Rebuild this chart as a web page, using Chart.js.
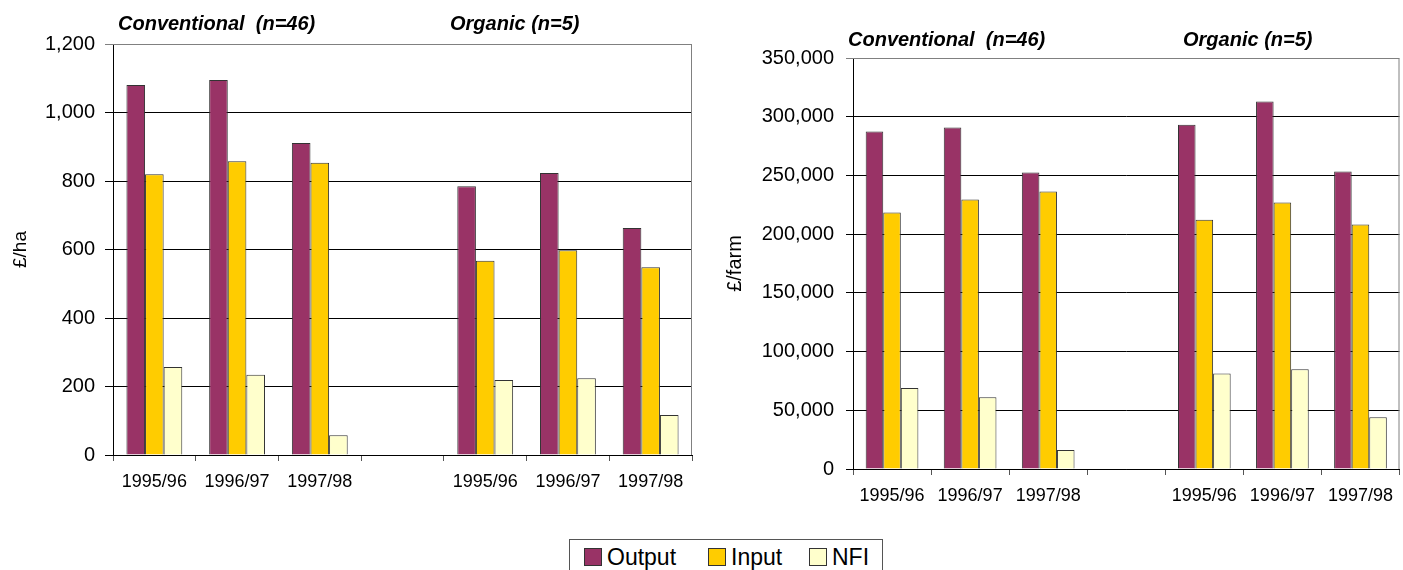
<!DOCTYPE html>
<html>
<head>
<meta charset="utf-8">
<script src="https://cdn.jsdelivr.net/npm/chart.js@4/dist/chart.umd.min.js"></script>
<style>
  body { margin: 0; background: #fff; width: 1403px; height: 570px; overflow: hidden; position: relative;
         font-family: 'Liberation Sans', Arial, sans-serif; }
  canvas { position: absolute; }
  .note { position: absolute; font: italic bold 20px 'Liberation Sans', Arial, sans-serif; white-space: pre; color: #000; }
  #legend { position: absolute; left: 569px; top: 539px; width: 314px; height: 40px; border: 1px solid #555;
            box-sizing: border-box; font-size: 23px; }
  #legend span.item { position: absolute; top: 4px; line-height: 26px; }
  #legend i { display: inline-block; width: 16px; height: 16px; border: 1px solid #333; margin-right: 5px; vertical-align: -1px; }
</style>
</head>
<body>
<canvas id="haChart" width="700" height="500" style="left:0;top:0"></canvas>
<canvas id="farmChart" width="683" height="514" style="left:720px;top:0"></canvas>

<div class="note" style="left:118px;top:12px">Conventional  (n=46)</div>
<div class="note" style="left:450px;top:12px">Organic (n=5)</div>
<div class="note" style="left:848px;top:28px">Conventional  (n=46)</div>
<div class="note" style="left:1183px;top:28px">Organic (n=5)</div>

<div id="legend"></div>

<script>
var categories = ['1995/96', '1996/97', '1997/98', '', '1995/96', '1996/97', '1997/98'];
var seriesNames = ['Output', 'Input', 'NFI'];
var seriesColors = ['#993366', '#FFCC00', '#FFFFCC'];

// £ per hectare
var haOutput = [1080, 1095, 911, null, 785, 823, 663];
var haInput  = [820, 858, 853, null, 567, 598, 548];
var haNFI    = [257, 234, 58, null, 219, 224, 117];

// £ per farm
var farmOutput = [287500, 290900, 252600, null, 293200, 313000, 253400];
var farmInput  = [218500, 229600, 236400, null, 212300, 227000, 208300];
var farmNFI    = [69000, 61000, 16200, null, 81400, 84900, 44000];

Chart.defaults.font.family = "'Liberation Sans', Arial, sans-serif";
Chart.defaults.color = '#000';

// grey frame on the top and right of the plot area, like the Excel original
var frame = {
  id: 'frame',
  afterDraw: function (chart) {
    var a = chart.chartArea, c = chart.ctx;
    c.save();
    c.strokeStyle = '#808080';
    c.lineWidth = 1;
    c.beginPath();
    c.moveTo(a.left, a.top + 0.5);
    c.lineTo(a.right - 0.5, a.top + 0.5);
    c.lineTo(a.right - 0.5, a.bottom);
    c.stroke();
    c.restore();
  }
};

function makeChart(id, values, opts) {
  var datasets = values.map(function (vals, i) {
    return {
      label: seriesNames[i],
      data: vals,
      backgroundColor: seriesColors[i],
      borderColor: '#333',
      borderWidth: 1,
      categoryPercentage: 0.675,
      barPercentage: 1.0
    };
  });

  return new Chart(document.getElementById(id).getContext('2d'), {
    type: 'bar',
    data: { labels: categories, datasets: datasets },
    plugins: [frame],
    options: {
      responsive: false,
      animation: false,
      layout: { padding: { top: opts.top, right: opts.right, left: 0, bottom: 0 } },
      plugins: { legend: { display: false }, tooltip: { enabled: false } },
      scales: {
        x: {
          grid: { drawOnChartArea: false, drawTicks: true, tickLength: 6, color: '#555', offset: true },
          border: { color: '#000' },
          ticks: { font: { size: 18 }, padding: 10, maxRotation: 0, autoSkip: false },
          afterFit: function (s) { s.height = 45; }
        },
        y: {
          min: 0,
          max: opts.max,
          ticks: { stepSize: opts.step, font: { size: 20 }, padding: opts.pad },
          grid: {
            tickLength: opts.tick,
            color: function (ctx) { return ctx.tick && ctx.tick.value === opts.max ? '#808080' : '#000'; }
          },
          border: { color: '#000' },
          title: { display: true, text: opts.title, font: { size: opts.tsize }, padding: { top: opts.tpad, bottom: 0 } },
          afterFit: function (s) { s.width = opts.axisW; }
        }
      }
    }
  });
}

makeChart('haChart', [haOutput, haInput, haNFI],
  { top: 44, right: 8, max: 1200, step: 200, pad: 10, tick: 8, title: '£/ha', tsize: 19, tpad: 9, axisW: 113 });

makeChart('farmChart', [farmOutput, farmInput, farmNFI],
  { top: 58, right: 0, max: 350000, step: 50000, pad: 12, tick: 7, title: '£/farm', tsize: 20, tpad: 3, axisW: 133 });

// shared legend
var legend = document.getElementById('legend');
var lefts = [14, 138, 239];
seriesNames.forEach(function (name, i) {
  var s = document.createElement('span');
  s.className = 'item';
  s.style.left = lefts[i] + 'px';
  s.innerHTML = '<i style="background:' + seriesColors[i] + '"></i>' + name;
  legend.appendChild(s);
});
</script>
</body>
</html>
